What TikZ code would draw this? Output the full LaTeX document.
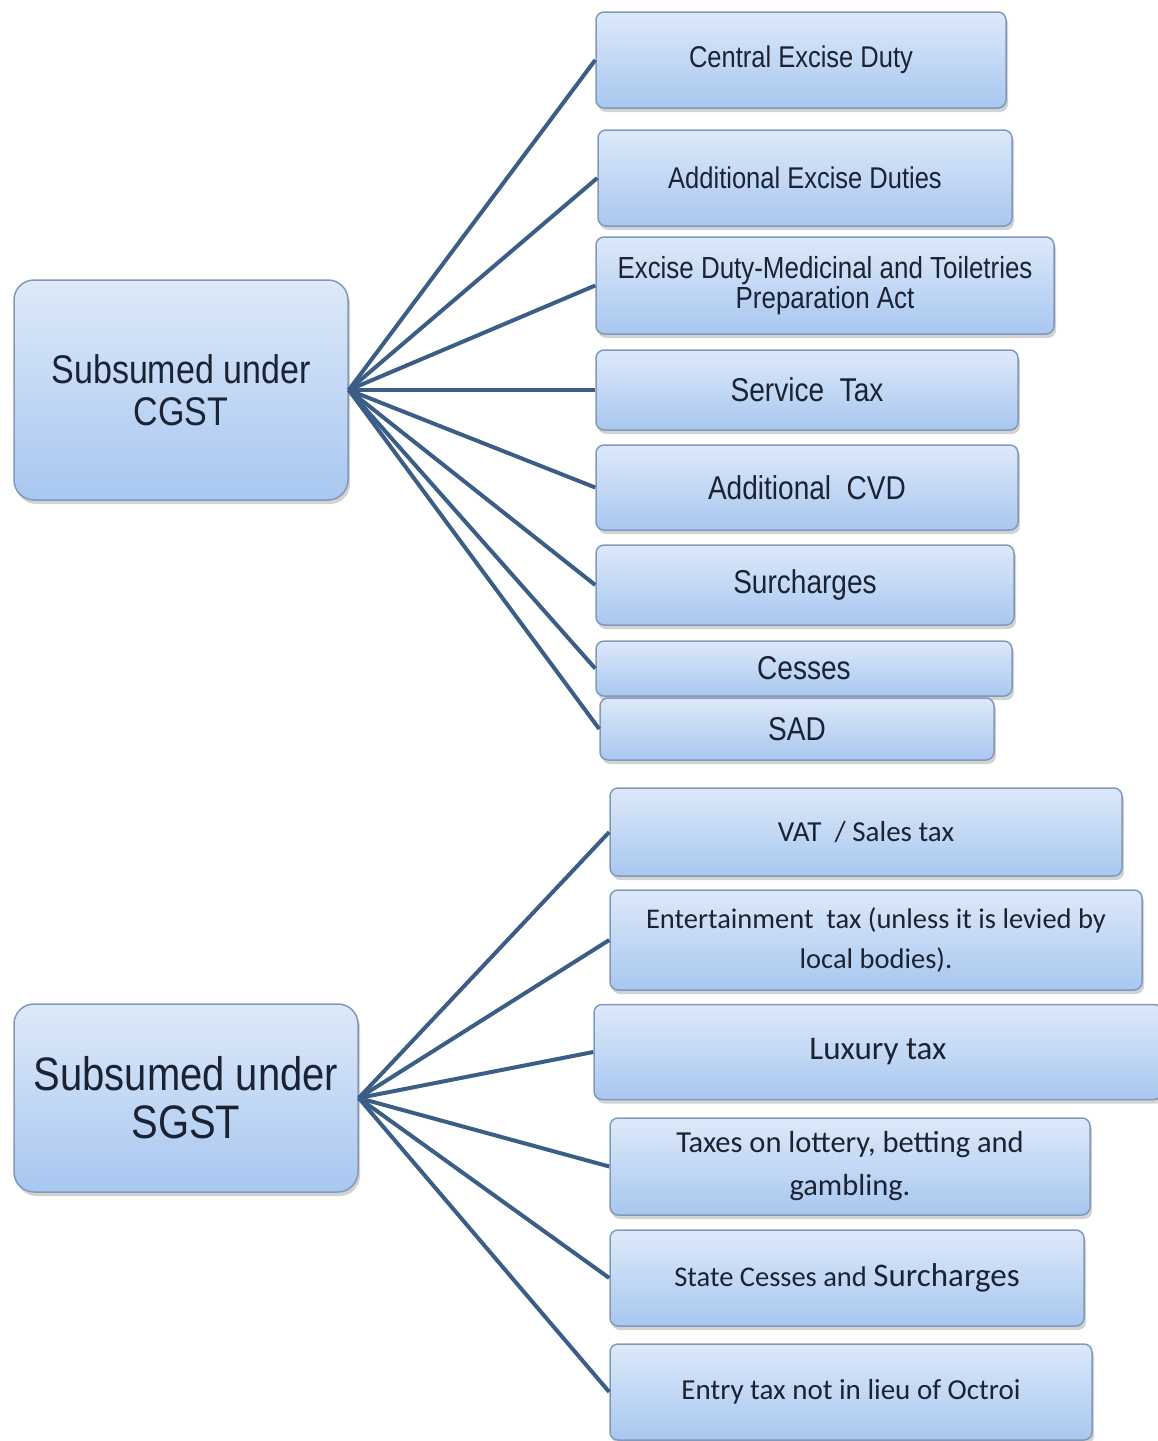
\documentclass[tikz,border=0pt]{standalone}
\usepackage{fontspec}
\setmainfont{Liberation Sans}
\newfontfamily\arialn[FakeStretch=0.85]{Liberation Sans}
\newfontfamily\calib{Carlito}
\usepackage{tikz}
\usetikzlibrary{shadows}

\definecolor{boxtop}{HTML}{DDE9F9}
\definecolor{boxbot}{HTML}{A8C7F0}
\definecolor{boxline}{HTML}{8199BA}
\definecolor{linkblue}{HTML}{3B5E86}
\definecolor{txt}{HTML}{1B2233}

\begin{document}
\begin{tikzpicture}[
    x=1pt, y=-1pt,
    taxbox/.style={
        rectangle, draw=boxline, line width=1.5pt, top color=boxtop, bottom color=boxbot,
        rounded corners=8pt, align=center, inner sep=0pt, text=txt,
        drop shadow={shadow xshift=2pt, shadow yshift=-4pt, opacity=0.35}
    },
    headbox/.style={taxbox, rounded corners=20pt},
    link/.style={draw=linkblue, line width=4pt}
]
    \useasboundingbox (0,0) rectangle (1158,1441);

    % CGST side
    \node [headbox, minimum width=334pt, minimum height=220pt,
           font=\arialn\fontsize{40}{42}\selectfont] (cgst) at (181,390)
        {Subsumed under\\CGST};
    \node [taxbox, minimum width=410pt, minimum height=96pt,
           font=\arialn\fontsize{30}{32}\selectfont] (ced) at (801,60)
        {Central Excise Duty};
    \node [taxbox, minimum width=414pt, minimum height=96pt,
           font=\arialn\fontsize{30}{32}\selectfont] (aed) at (805,178)
        {Additional Excise Duties};
    \node [taxbox, minimum width=458pt, minimum height=97pt,
           font=\arialn\fontsize{30.5}{28}\selectfont] (edm) at (825,285.5)
        {Excise Duty-Medicinal and Toiletries\\Preparation Act};
    \node [taxbox, minimum width=422pt, minimum height=80pt,
           font=\arialn\fontsize{33}{35}\selectfont] (stax) at (807,390)
        {Service~~Tax};
    \node [taxbox, minimum width=422pt, minimum height=85pt,
           font=\arialn\fontsize{33}{35}\selectfont] (acvd) at (807,487.5)
        {Additional~~CVD};
    \node [taxbox, minimum width=418pt, minimum height=80pt,
           font=\arialn\fontsize{33}{35}\selectfont] (surch) at (805,585)
        {Surcharges};
    \node [taxbox, minimum width=416pt, minimum height=55pt,
           font=\arialn\fontsize{33}{35}\selectfont] (cess) at (804,668.5)
        {Cesses};
    \node [taxbox, minimum width=394pt, minimum height=62pt,
           font=\arialn\fontsize{33}{35}\selectfont] (sad) at (797,729)
        {SAD};

    \foreach \t in {ced,aed,edm,stax,acvd,surch,cess,sad}
        \path [link] (cgst.east) -- (\t.west);

    % SGST side
    \node [headbox, minimum width=344pt, minimum height=188pt,
           font=\arialn\fontsize{47}{48}\selectfont] (sgst) at (186,1098)
        {Subsumed under\\SGST};
    \node [taxbox, minimum width=512pt, minimum height=88pt,
           font=\calib\fontsize{29}{32}\selectfont] (vat) at (866,832)
        {VAT~~/ Sales tax};
    \node [taxbox, minimum width=532pt, minimum height=100pt,
           font=\calib\fontsize{28.5}{40}\selectfont] (ent) at (876,940)
        {Entertainment~ tax (unless it is levied by\\local bodies).};
    \node [taxbox, minimum width=568pt, minimum height=95pt,
           font=\calib\fontsize{33}{35}\selectfont] (lux) at (878,1052)
        {Luxury tax};
    \node [taxbox, minimum width=480pt, minimum height=97pt,
           font=\calib\fontsize{30.5}{43}\selectfont] (lot) at (850,1166.5)
        {Taxes on lottery, betting and\\gambling.};
    \node [taxbox, minimum width=474pt, minimum height=96pt,
           font=\calib\fontsize{28.5}{30}\selectfont] (scs) at (847,1278)
        {State Cesses and {\fontsize{33}{30}\selectfont Surcharges}};
    \node [taxbox, minimum width=482pt, minimum height=96pt,
           font=\calib\fontsize{29}{30}\selectfont] (entry) at (851,1392)
        {Entry tax not in lieu of Octroi};

    \foreach \t in {vat,ent,lux,lot,scs,entry}
        \path [link] (sgst.east) -- (\t.west);
\end{tikzpicture}
\end{document}
